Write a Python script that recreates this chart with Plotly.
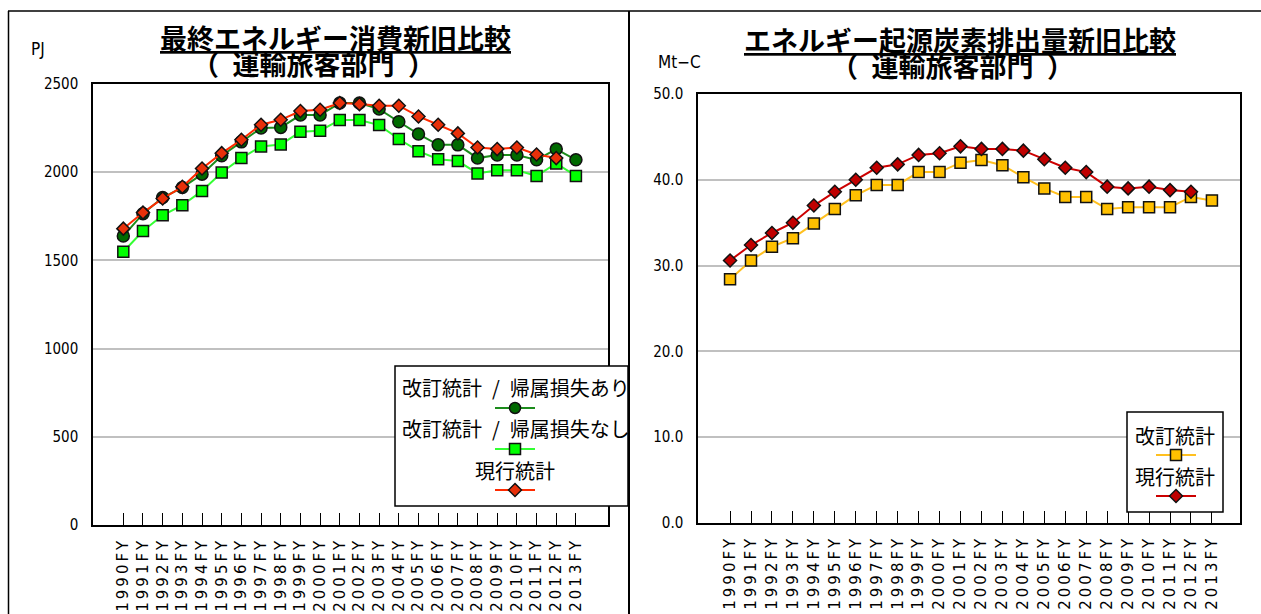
import plotly.graph_objects as go

W, H = 1261, 614

# Fiscal years shown on both charts
years = ["1990FY", "1991FY", "1992FY", "1993FY", "1994FY", "1995FY", "1996FY", "1997FY",
         "1998FY", "1999FY", "2000FY", "2001FY", "2002FY", "2003FY", "2004FY", "2005FY",
         "2006FY", "2007FY", "2008FY", "2009FY", "2010FY", "2011FY", "2012FY", "2013FY"]

# Final energy consumption, passenger transport (PJ)
energy_revised_with_loss = [1638, 1765, 1856, 1913, 1989, 2093, 2172, 2250, 2254, 2324, 2324, 2392,
                            2392, 2358, 2286, 2216, 2155, 2155, 2080, 2097, 2097, 2070, 2131, 2070]
energy_revised_no_loss = [1549, 1667, 1756, 1813, 1894, 1998, 2080, 2146, 2157, 2229, 2235, 2296,
                          2296, 2267, 2188, 2119, 2074, 2063, 1993, 2011, 2011, 1979, 2050, 1979]
energy_current = [1680, 1771, 1851, 1917, 2021, 2108, 2184, 2269, 2297, 2347, 2354, 2392,
                  2386, 2377, 2377, 2316, 2269, 2220, 2140, 2131, 2140, 2100, 2080]

# Energy-related carbon emissions, passenger transport (Mt-C)
carbon_revised = [28.4, 30.6, 32.2, 33.2, 34.9, 36.6, 38.2, 39.4, 39.4, 40.9, 40.9, 42.0,
                  42.3, 41.7, 40.3, 39.0, 38.0, 38.0, 36.6, 36.8, 36.8, 36.8, 38.0, 37.6]
carbon_current = [30.6, 32.4, 33.8, 35.0, 37.0, 38.6, 40.0, 41.4, 41.8, 42.9, 43.1, 43.9,
                  43.6, 43.6, 43.4, 42.4, 41.4, 40.9, 39.2, 39.0, 39.2, 38.8, 38.6]

energy_ticks = [0, 500, 1000, 1500, 2000, 2500]
carbon_ticks = [0, 10, 20, 30, 40, 50]

JP = "Noto Sans CJK JP"
NUM = "DejaVu Sans Condensed, Liberation Sans Narrow, Liberation Sans, Arial"


def px(x):
    return x / W


def py(y):
    return 1 - y / H


fig = go.Figure()

# ---- left chart: energy consumption ----
fig.add_trace(go.Scatter(
    x=years, y=energy_revised_no_loss, mode="lines+markers", xaxis="x", yaxis="y",
    line=dict(color="#33ff33", width=2),
    marker=dict(symbol="square", size=11, color="#00ff00", line=dict(color="#111", width=1.5)),
    name="改訂統計 / 帰属損失なし"))
fig.add_trace(go.Scatter(
    x=years, y=energy_revised_with_loss, mode="lines+markers", xaxis="x", yaxis="y",
    line=dict(color="#1c8c1c", width=2),
    marker=dict(symbol="circle", size=12, color="#006a00", line=dict(color="#111", width=1.5)),
    name="改訂統計 / 帰属損失あり"))
fig.add_trace(go.Scatter(
    x=years[:len(energy_current)], y=energy_current, mode="lines+markers", xaxis="x", yaxis="y",
    line=dict(color="#ff2a00", width=2),
    marker=dict(symbol="diamond", size=10, color="#e8300a", line=dict(color="#111", width=1.5)),
    name="現行統計"))

# ---- right chart: carbon emissions ----
fig.add_trace(go.Scatter(
    x=years, y=carbon_revised, mode="lines+markers", xaxis="x2", yaxis="y2",
    line=dict(color="#ffc020", width=2),
    marker=dict(symbol="square", size=11, color="#ffc000", line=dict(color="#111", width=1.5)),
    name="改訂統計"))
fig.add_trace(go.Scatter(
    x=years[:len(carbon_current)], y=carbon_current, mode="lines+markers", xaxis="x2", yaxis="y2",
    line=dict(color="#cc0000", width=2),
    marker=dict(symbol="diamond", size=10, color="#c00000", line=dict(color="#111", width=1.5)),
    name="現行統計"))

tick_text = ["\u2009".join(y) for y in years]

xaxis_common = dict(
    type="category", tickmode="array", tickvals=years, ticktext=tick_text,
    tickangle=-90, ticks="inside", ticklen=12, tickwidth=1, tickcolor="black",
    showline=True, linecolor="black", linewidth=1.5, mirror=True,
    showgrid=False, zeroline=False, ticklabelstandoff=8, automargin=False,
    tickfont=dict(family="DejaVu Sans", size=15, color="black"),
)
yaxis_common = dict(
    showline=True, linecolor="black", linewidth=1.5, mirror=True,
    showgrid=True, gridcolor="#c0c0c0", gridwidth=1.5, zeroline=False,
    ticks="", ticklabelstandoff=10, automargin=False,
    tickfont=dict(family=NUM, size=15, color="black"),
)

fig.update_layout(
    width=W, height=H, margin=dict(l=0, r=0, t=0, b=0, autoexpand=False),
    paper_bgcolor="white", plot_bgcolor="white", showlegend=False,
    xaxis=dict(xaxis_common, domain=[px(93), px(608)], range=[-1.54, 24.63], anchor="y"),
    yaxis=dict(yaxis_common, domain=[py(525), py(84)], range=[0, 2500],
               tickvals=energy_ticks, ticktext=[str(v) for v in energy_ticks], anchor="x"),
    xaxis2=dict(xaxis_common, domain=[px(698), px(1240)], range=[-1.53, 24.34], anchor="y2"),
    yaxis2=dict(yaxis_common, domain=[py(523), py(94)], range=[0, 50],
                tickvals=carbon_ticks, ticktext=[f"{v:.1f}" for v in carbon_ticks], anchor="x2"),
)

shapes = []
# chart frames
shapes.append(dict(type="line", xref="paper", yref="paper", x0=px(8), x1=1, y0=py(11), y1=py(11),
                   line=dict(color="black", width=1.5)))
shapes.append(dict(type="line", xref="paper", yref="paper", x0=px(8.5), x1=px(8.5), y0=py(11), y1=0,
                   line=dict(color="black", width=1.5)))
shapes.append(dict(type="line", xref="paper", yref="paper", x0=px(629), x1=px(629), y0=py(11), y1=0,
                   line=dict(color="black", width=2)))

# legend boxes
shapes.append(dict(type="rect", xref="paper", yref="paper", x0=px(395), x1=px(628), y0=py(506), y1=py(366),
                   fillcolor="white", line=dict(color="black", width=1.5), layer="above"))
shapes.append(dict(type="rect", xref="paper", yref="paper", x0=px(1127), x1=px(1223), y0=py(512), y1=py(412),
                   fillcolor="white", line=dict(color="black", width=1.5), layer="above"))


def key(cx, cy, line_color, fill, symbol, s=5.5):
    out = [dict(type="line", xref="paper", yref="paper", x0=px(cx - 20), x1=px(cx + 20), y0=py(cy), y1=py(cy),
                line=dict(color=line_color, width=2), layer="above")]
    mk = dict(xref="paper", yref="paper", fillcolor=fill, line=dict(color="#111", width=1.5), layer="above")
    if symbol == "circle":
        out.append(dict(mk, type="circle", x0=px(cx - s), x1=px(cx + s), y0=py(cy + s), y1=py(cy - s)))
    elif symbol == "square":
        out.append(dict(mk, type="rect", x0=px(cx - s), x1=px(cx + s), y0=py(cy + s), y1=py(cy - s)))
    else:
        d = s + 1
        path = (f"M{px(cx)},{py(cy - d)} L{px(cx + d)},{py(cy)} L{px(cx)},{py(cy + d)} "
                f"L{px(cx - d)},{py(cy)} Z")
        out.append(dict(mk, type="path", path=path))
    return out


shapes += key(515, 408, "#1c8c1c", "#006a00", "circle")
shapes += key(515, 449, "#33ff33", "#00ff00", "square")
shapes += key(515, 490, "#ff2a00", "#e8300a", "diamond")
shapes += key(1176, 455, "#ffc020", "#ffc000", "square")
shapes += key(1176, 496, "#cc0000", "#c00000", "diamond")
fig.update_layout(shapes=shapes)


def text(x, y, s, size, family=JP, xanchor="center"):
    return dict(xref="paper", yref="paper", x=px(x), y=py(y), text=s, showarrow=False,
                xanchor=xanchor, yanchor="middle", font=dict(family=family, size=size, color="black"))


subtitle = "<b>（\u2002運輸旅客部門\u2002）</b>"
annotations = [
    text(335, 37, "<b><u>最終エネルギー消費新旧比較</u></b>", 27),
    text(313, 63, subtitle, 27),
    text(960, 39, "<b><u>エネルギー起源炭素排出量新旧比較</u></b>", 27),
    text(952, 65, subtitle, 27),
    text(29, 49, "PJ", 17, NUM, "left"),
    text(656, 62, "Mt−C", 17, NUM, "left"),
    text(516, 388, "改訂統計\u2002/\u2002帰属損失あり", 20),
    text(516, 428, "改訂統計\u2002/\u2002帰属損失なし", 20),
    text(515, 470, "現行統計", 20),
    text(1175, 435, "改訂統計", 20),
    text(1175, 476, "現行統計", 20),
]
fig.update_layout(annotations=annotations)

fig.write_html("out.html")
